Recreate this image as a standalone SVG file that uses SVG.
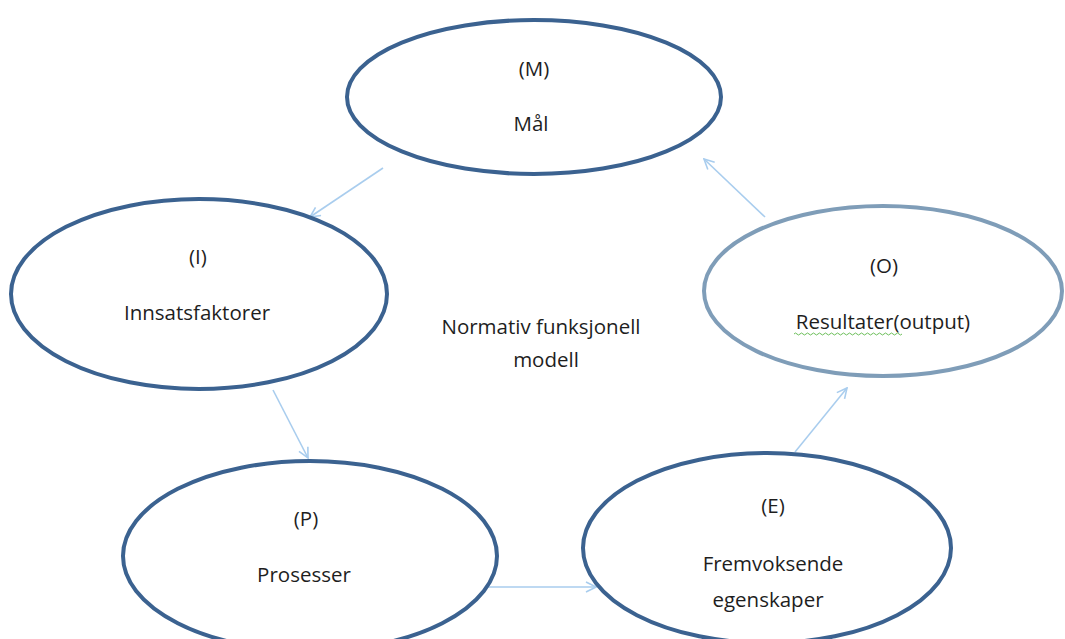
<svg xmlns="http://www.w3.org/2000/svg" width="1065" height="639" viewBox="0 0 1065 639">
<defs>
<style>
.node{fill:none;stroke:#3b6290;stroke-width:4}
.light{fill:none;stroke:#7f9db8;stroke-width:4}
.t{font-family:"Open Sans","Liberation Sans",sans-serif;font-size:20.5px;fill:#1e1e1e;text-anchor:middle}
.c{fill:none;stroke:#a9cdee;stroke-width:1.6;marker-end:url(#ah)}
</style>
<marker id="ah" viewBox="0 0 12 12" refX="11" refY="6" markerWidth="12" markerHeight="12" markerUnits="userSpaceOnUse" orient="auto">
<path d="M1,1 L11,6 L1,11" fill="none" stroke="#a9cdee" stroke-width="1.6"/>
</marker>
</defs>
<rect width="1065" height="639" fill="#ffffff"/>
<g id="connectors">
<line class="c" x1="383" y1="168" x2="310" y2="217"/>
<line class="c" x1="765" y1="217" x2="704" y2="159"/>
<line class="c" x1="273" y1="390" x2="308" y2="458"/>
<line class="c" x1="488" y1="587" x2="596" y2="587"/>
<line class="c" x1="795" y1="452" x2="847" y2="388"/>
</g>
<g id="node-m">
<ellipse class="node" cx="534" cy="97" rx="187" ry="77"/>
<text class="t" x="534" y="76">(M)</text>
<text class="t" x="531" y="131">Mål</text>
</g>
<g id="node-i">
<ellipse class="node" cx="199" cy="294" rx="188" ry="95"/>
<text class="t" x="198" y="264">(I)</text>
<text class="t" x="197" y="320">Innsatsfaktorer</text>
</g>
<g id="center-label">
<text class="t" x="541" y="334">Normativ funksjonell</text>
<text class="t" x="546" y="367">modell</text>
</g>
<g id="node-o">
<ellipse class="light" cx="883" cy="291" rx="179" ry="85"/>
<text class="t" x="884" y="273">(O)</text>
<text class="t" x="883" y="329">Resultater(output)</text>
<path d="M794,334 q1.5,-2 3,0 t3,0 t3,0 t3,0 t3,0 t3,0 t3,0 t3,0 t3,0 t3,0 t3,0 t3,0 t3,0 t3,0 t3,0 t3,0 t3,0 t3,0 t3,0 t3,0 t3,0 t3,0 t3,0 t3,0 t3,0 t3,0 t3,0 t3,0 t3,0 t3,0 t3,0 t3,0 t3,0 t3,0 t3,0 t3,0" fill="none" stroke="#6cbf5a" stroke-width="1"/>
</g>
<g id="node-p">
<ellipse class="node" cx="310" cy="556" rx="187" ry="95"/>
<text class="t" x="306" y="526">(P)</text>
<text class="t" x="304" y="582">Prosesser</text>
</g>
<g id="node-e">
<ellipse class="node" cx="767" cy="548" rx="184" ry="95"/>
<text class="t" x="773" y="513">(E)</text>
<text class="t" x="773" y="571">Fremvoksende</text>
<text class="t" x="768" y="607">egenskaper</text>
</g>
</svg>
